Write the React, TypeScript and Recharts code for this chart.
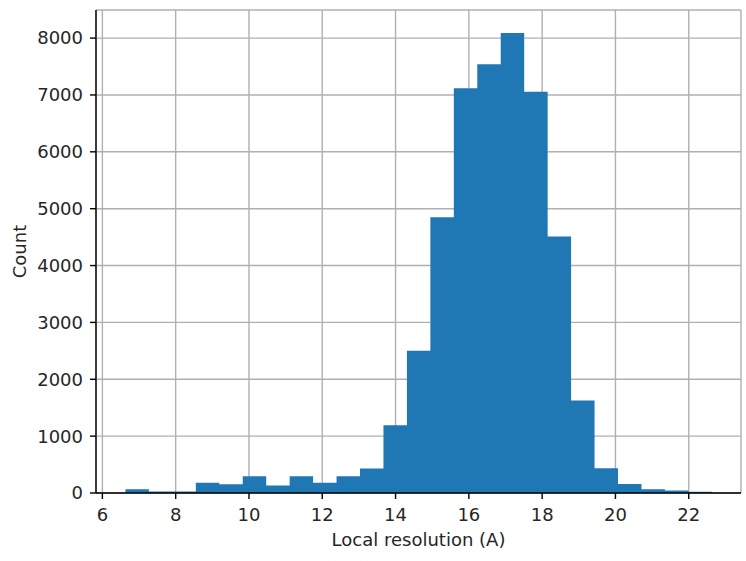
import React from 'react';
import { ComposedChart, Area, XAxis, YAxis, CartesianGrid, Label } from 'recharts';

// Histogram bin left edges (Local resolution, Å) and the final right edge
const binStarts = [6.63, 7.27, 7.91, 8.55, 9.19, 9.83, 10.47, 11.11, 11.75, 12.39, 13.03, 13.67, 14.31, 14.95, 15.59, 16.23, 16.87, 17.51, 18.15, 18.79, 19.43, 20.07, 20.71, 21.35, 21.99];
const binEnd = 22.63;
// Counts per bin
const counts = [65, 25, 25, 180, 155, 293, 130, 293, 180, 293, 430, 1192, 2500, 4850, 7120, 7540, 8090, 7055, 4510, 1625, 434, 159, 68, 45, 22];

const xTicks = [6, 8, 10, 12, 14, 16, 18, 20, 22];
const yTicks = [0, 1000, 2000, 3000, 4000, 5000, 6000, 7000, 8000];

const data = [
  ...binStarts.map((x, i) => ({ x, count: counts[i] })),
  { x: binEnd, count: counts[counts.length - 1] },
];

const FONT = 'DejaVu Sans';
const FS = 18;
const tickStyle = { fontFamily: FONT, fontSize: FS, fill: '#262626' };
const LW = 1.4;

export default function App() {
  return (
    <div style={{ position: 'absolute', left: 0, top: 0, background: '#fff' }}>
      <ComposedChart width={746} height={561} data={data} margin={{ top: 10, right: 5, left: 0, bottom: 0 }}>
        <Area
          type="stepAfter"
          dataKey="count"
          xAxisId="bottom"
          yAxisId="left"
          fill="#1f77b4"
          fillOpacity={1}
          stroke="none"
          isAnimationActive={false}
          dot={false}
          activeDot={false}
        />
        <CartesianGrid xAxisId="bottom" yAxisId="left" stroke="#b0b0b0" strokeWidth={LW} strokeDasharray="" />
        <XAxis
          xAxisId="bottom"
          dataKey="x"
          type="number"
          domain={[5.826, 23.426]}
          ticks={xTicks}
          allowDataOverflow
          height={68}
          tickSize={6}
          tickMargin={9}
          tick={tickStyle}
          axisLine={{ stroke: '#000', strokeWidth: LW }}
          tickLine={{ stroke: '#000', strokeWidth: LW }}
        >
          <Label
            content={(props: any) => {
              const vb = props.viewBox;
              return (
                <text x={vb.x + vb.width / 2} y={vb.y + 53} textAnchor="middle" fontFamily={FONT} fontSize={FS} fill="#262626">
                  Local resolution (A)
                </text>
              );
            }}
          />
        </XAxis>
        <XAxis xAxisId="top" orientation="top" type="number" domain={[5.826, 23.426]} height={0} tick={false} tickLine={false} axisLine={{ stroke: '#000', strokeWidth: LW }} />
        <YAxis
          yAxisId="left"
          type="number"
          domain={[0, 8494]}
          ticks={yTicks}
          allowDataOverflow
          width={96}
          tickSize={6}
          tickMargin={7}
          tick={tickStyle}
          axisLine={{ stroke: '#000', strokeWidth: LW }}
          tickLine={{ stroke: '#000', strokeWidth: LW }}
        >
          <Label
            content={(props: any) => {
              const vb = props.viewBox;
              const cx = 19;
              const cy = vb.y + vb.height / 2;
              return (
                <text x={cx} y={cy} transform={`rotate(-90 ${cx} ${cy})`} textAnchor="middle" dominantBaseline="central" fontFamily={FONT} fontSize={FS} fill="#262626">
                  Count
                </text>
              );
            }}
          />
        </YAxis>
        <YAxis yAxisId="right" orientation="right" type="number" domain={[0, 8494]} width={0} tick={false} tickLine={false} axisLine={{ stroke: '#000', strokeWidth: LW }} />
      </ComposedChart>
    </div>
  );
}
